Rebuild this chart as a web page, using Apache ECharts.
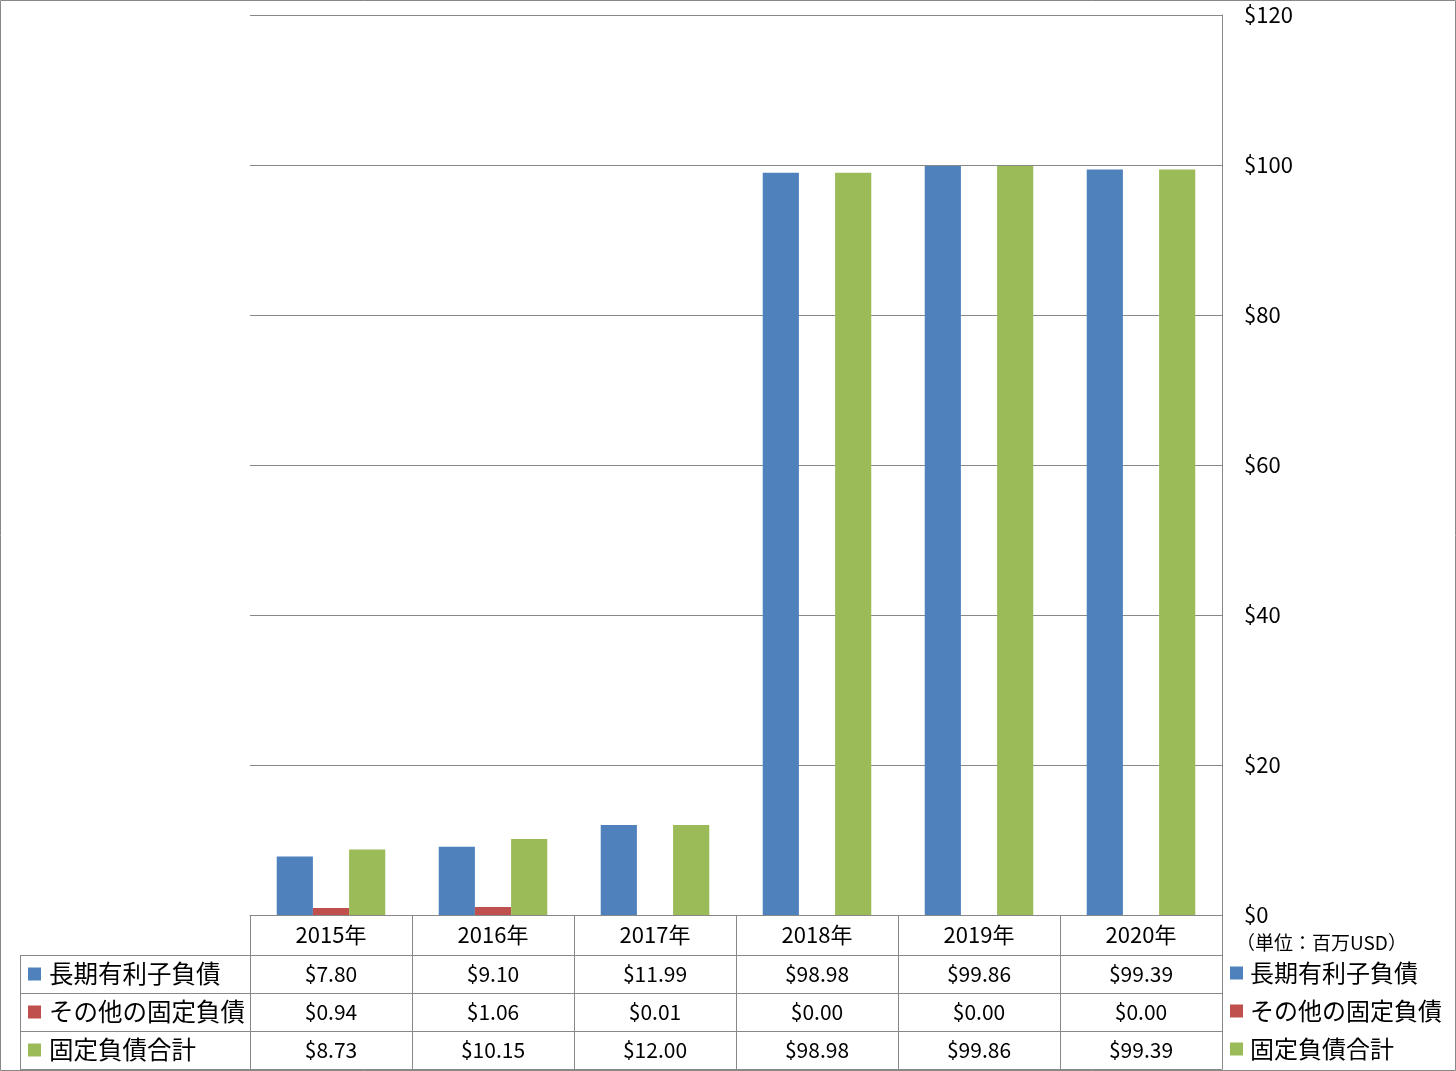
<!DOCTYPE html>
<html>
<head>
<meta charset="utf-8">
<script src="https://cdn.jsdelivr.net/npm/echarts@6/dist/echarts.min.js"></script>
<style>
html,body{margin:0;padding:0;background:#fff;}
#c{width:1456px;height:1071px;}
</style>
</head>
<body>
<div id="c"></div>
<script>
const categories = ['2015年','2016年','2017年','2018年','2019年','2020年'];
const seriesNames = ['長期有利子負債','その他の固定負債','固定負債合計'];
const longTermDebt = [7.80, 9.10, 11.99, 98.98, 99.86, 99.39];
const otherFixed = [0.94, 1.06, 0.01, 0.00, 0.00, 0.00];
const totalFixed = [8.73, 10.15, 12.00, 98.98, 99.86, 99.39];
const yTicks = [0, 20, 40, 60, 80, 100, 120];
const unitLabel = '（単位：百万USD）';

const colors = ['#4F81BD', '#C0504D', '#9BBB59'];
const seriesData = [longTermDebt, otherFixed, totalFixed];
const FONT = '"Noto Sans CJK JP", "Noto Sans", sans-serif';
const GRID = '#888888';
const fmt = v => '$' + v.toFixed(2);

const chart = echarts.init(document.getElementById('c'), null, {renderer: 'canvas'});

const tableAxes = seriesData.map((arr, i) => ({
  type: 'category',
  gridIndex: 0,
  position: 'bottom',
  offset: 40 + i * 38,
  data: arr.map(fmt),
  axisLine: {show: true, lineStyle: {color: GRID, width: 1}},
  axisTick: {show: true, length: 38, lineStyle: {color: GRID, width: 1}},
  axisLabel: {show: true, margin: 8, fontSize: 21, lineHeight: 22, color: '#000', fontFamily: FONT, interval: 0},
  splitLine: {show: false}
}));

const rowLabelGraphics = [];
seriesNames.forEach((name, i) => {
  const cy = 974 + i * 38;
  rowLabelGraphics.push({type: 'rect', shape: {x: 28, y: cy - 6.5, width: 13, height: 13}, style: {fill: colors[i]}, silent: true});
  rowLabelGraphics.push({type: 'text', style: {x: 49, y: cy, text: name, font: '24.5px ' + FONT, fill: '#000', textVerticalAlign: 'middle', verticalAlign: 'middle'}, silent: true});
});
[955, 993, 1031, 1069].forEach(y => {
  rowLabelGraphics.push({type: 'line', shape: {x1: 20, y1: y + 0.5, x2: 250, y2: y + 0.5}, style: {stroke: GRID, lineWidth: 1}, silent: true});
});
rowLabelGraphics.push({type: 'line', shape: {x1: 20.5, y1: 955, x2: 20.5, y2: 1069}, style: {stroke: GRID, lineWidth: 1}, silent: true});
rowLabelGraphics.push({type: 'rect', shape: {x: 0.5, y: 0.5, width: 1455, height: 1070}, style: {fill: 'none', stroke: GRID, lineWidth: 1}, silent: true, z: 100});
rowLabelGraphics.push({type: 'text', style: {x: 1236, y: 943, text: unitLabel, font: '19px ' + FONT, fill: '#000', textVerticalAlign: 'middle', verticalAlign: 'middle'}, silent: true});

const option = {
  backgroundColor: '#fff',
  animation: false,
  textStyle: {fontFamily: FONT},
  grid: {left: 250, right: 234, top: 15, bottom: 156, containLabel: false},
  legend: {
    orient: 'vertical',
    left: 1230,
    top: 961,
    height: 108,
    padding: 0,
    itemWidth: 13,
    itemHeight: 13,
    itemGap: 14,
    icon: 'rect',
    data: seriesNames,
    textStyle: {fontSize: 24, lineHeight: 24, color: '#000', fontFamily: FONT, padding: [0, 0, 0, 2]},
    selectedMode: false
  },
  xAxis: [
    {
      type: 'category',
      gridIndex: 0,
      position: 'bottom',
      data: categories,
      axisLine: {show: true, lineStyle: {color: GRID, width: 1}},
      axisTick: {show: true, length: 40, lineStyle: {color: GRID, width: 1}},
      axisLabel: {show: true, margin: 9, fontSize: 22, lineHeight: 22, color: '#000', fontFamily: FONT, interval: 0},
      splitLine: {show: false}
    },
    ...tableAxes,
    {
      type: 'category',
      gridIndex: 0,
      position: 'bottom',
      offset: 154,
      data: categories,
      axisLine: {show: true, lineStyle: {color: GRID, width: 1}},
      axisTick: {show: false},
      axisLabel: {show: false}
    }
  ],
  yAxis: {
    type: 'value',
    position: 'right',
    min: yTicks[0],
    max: yTicks[yTicks.length - 1],
    interval: 20,
    axisLine: {show: true, lineStyle: {color: GRID, width: 1}},
    axisTick: {show: false},
    axisLabel: {show: true, margin: 22, fontSize: 22, color: '#000', fontFamily: FONT, formatter: v => '$' + v},
    splitLine: {show: true, lineStyle: {color: GRID, width: 1}}
  },
  series: seriesNames.map((name, i) => ({
    name: name,
    type: 'bar',
    xAxisIndex: 0,
    data: seriesData[i],
    itemStyle: {color: colors[i]},
    barGap: '0%',
    barCategoryGap: '33%'
  })),
  graphic: rowLabelGraphics
};
chart.setOption(option);
</script>
</body>
</html>
